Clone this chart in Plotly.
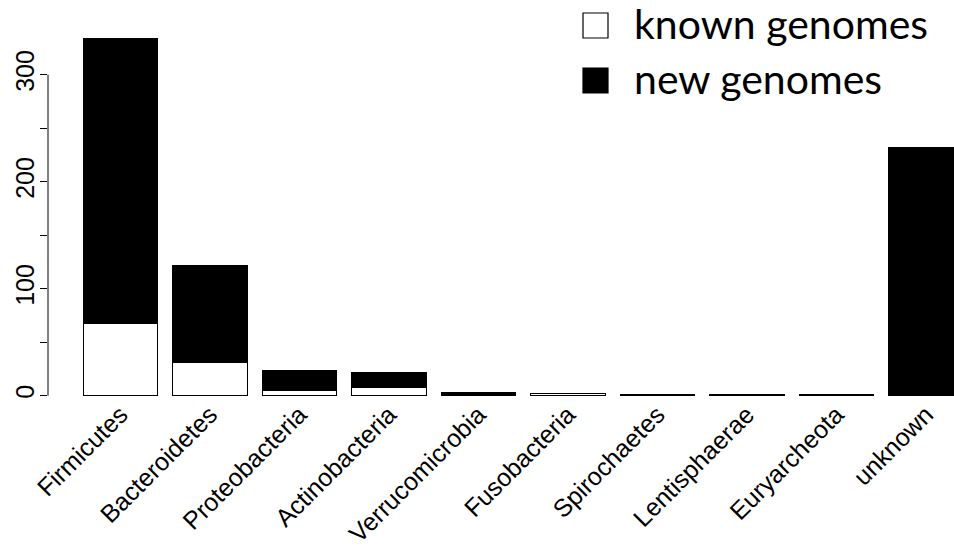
import plotly.graph_objects as go

categories = ["Firmicutes", "Bacteroidetes", "Proteobacteria", "Actinobacteria",
              "Verrucomicrobia", "Fusobacteria", "Spirochaetes", "Lentisphaerae",
              "Euryarcheota", "unknown"]
known = [68, 31, 5, 8, 0, 2, 0, 0, 0, 0]
new = [266, 91, 18, 14, 3, 0, 1, 1, 1, 232]
ytick_vals = [0, 50, 100, 150, 200, 250, 300]
ytick_text = ["0", "", "100", "", "200", "", "300"]
legend_labels = ["known genomes", "new genomes"]

xpos = list(range(len(categories)))

W, H = 954, 549
ML, MR, MT, MB = 48, 0, 24, 139
pw, ph = W - ML - MR, H - MT - MB

def px_x(p):
    return (p - ML) / pw

def px_y(p):
    return (H - MB - p) / ph

fig = go.Figure()
fig.add_trace(go.Bar(x=xpos, y=known, width=0.833, marker=dict(color="white", line=dict(color="black", width=1.2)),
                     name=legend_labels[0], showlegend=False))
fig.add_trace(go.Bar(x=xpos, y=new, width=0.833, marker=dict(color="black", line=dict(color="black", width=1.2)),
                     name=legend_labels[1], showlegend=False))

fig.update_layout(
    barmode="stack",
    width=W, height=H,
    margin=dict(l=ML, r=MR, t=MT, b=MB, pad=0, autoexpand=False),
    paper_bgcolor="white", plot_bgcolor="white",
    font=dict(family="Liberation Sans, Arial, sans-serif", color="black"),
    xaxis=dict(range=[-0.81, 9.313], tickvals=xpos, ticktext=categories, tickangle=-45,
               showgrid=False, zeroline=False, showline=False, ticks="",
               tickfont=dict(size=25), automargin=False, ticklabelstandoff=-16),
    yaxis=dict(range=[-13.4, 347.4], tickvals=ytick_vals, ticktext=ytick_text, tickangle=-90,
               showgrid=False, zeroline=False, showline=False, ticks="outside", ticklen=7,
               tickwidth=1, tickcolor="black", tickfont=dict(size=25), automargin=False,
               ticklabelstandoff=-4),
)

# y axis line spanning 0..300 like R
fig.add_shape(type="line", xref="paper", yref="y", x0=0, x1=0, y0=0, y1=300,
              line=dict(color="black", width=1))

# legend
sq = 25
for i, (lab, fill) in enumerate(zip(legend_labels, ["white", "black"])):
    top = 13 + i * 55
    fig.add_shape(type="rect", xref="paper", yref="paper",
                  x0=px_x(583), x1=px_x(583 + sq), y0=px_y(top + sq), y1=px_y(top),
                  line=dict(color="black", width=1.2), fillcolor=fill)
    fig.add_annotation(xref="paper", yref="paper", x=px_x(632), y=px_y(top + sq / 2 - 2),
                       xanchor="left", yanchor="middle", text=lab, showarrow=False,
                       font=dict(family="Lato, sans-serif", size=41, color="black"))

fig.write_html("out.html", config={"displayModeBar": False},
               post_script="document.body.style.margin='0';document.body.style.overflow='hidden';")
